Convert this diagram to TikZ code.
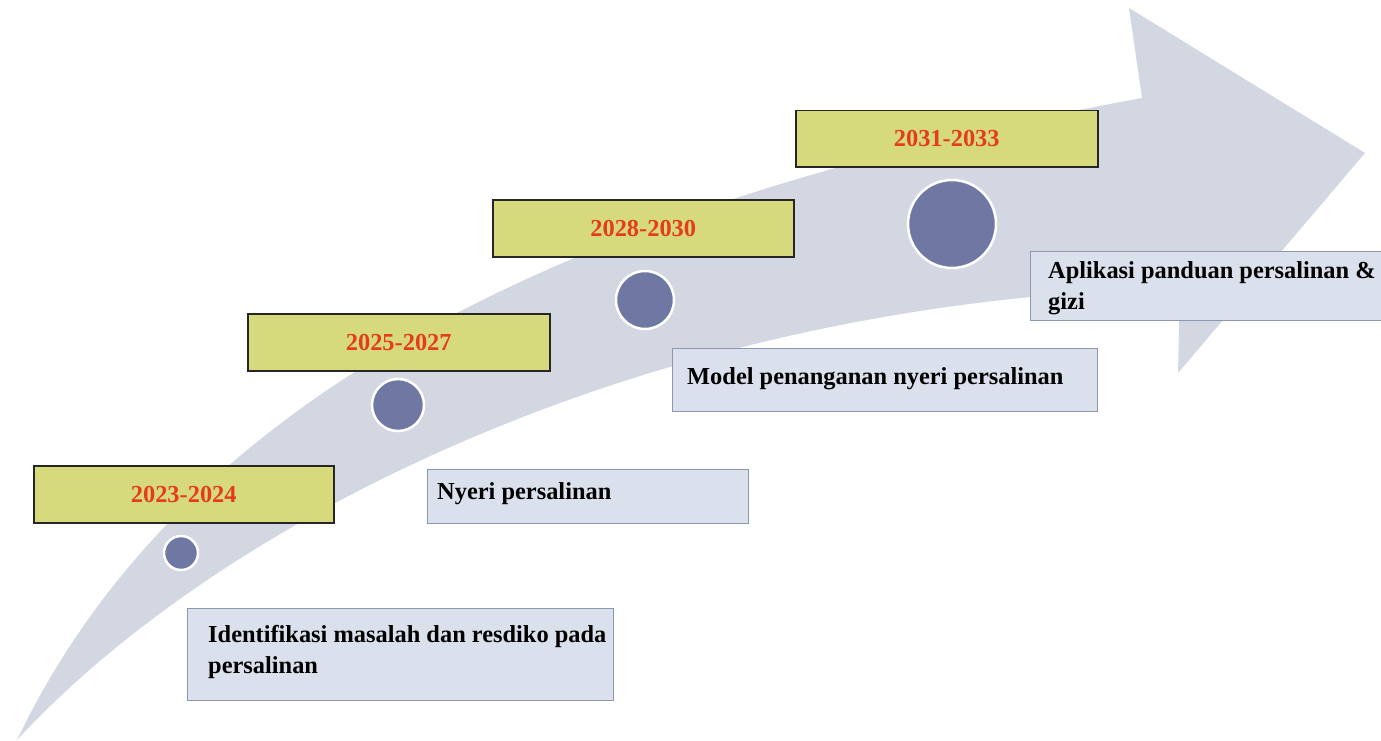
\documentclass[tikz,border=0pt]{standalone}
\usepackage{fontspec}
\setmainfont{Liberation Serif}
\definecolor{arrowgrey}{RGB}{211,215,225}
\definecolor{yearfill}{RGB}{214,218,124}
\definecolor{yeartext}{RGB}{228,60,28}
\definecolor{dotfill}{RGB}{110,120,163}
\definecolor{descfill}{RGB}{218,225,236}
\definecolor{descedge}{RGB}{140,152,176}
\tikzset{
  yearbox/.style={draw=black!85, line width=1.5pt, fill=yearfill, text=yeartext,
    font=\bfseries\fontsize{24.4}{28}\selectfont, inner sep=0pt,
    minimum width=300pt, minimum height=57pt, anchor=north west},
  dot/.style={circle, draw=white, line width=2.5pt, fill=dotfill, inner sep=0pt},
  descbox/.style={draw=descedge, line width=1pt, fill=descfill, inner sep=0pt, anchor=north west},
  desctext/.style={font=\bfseries\fontsize{24.4}{31}\selectfont, align=left, anchor=west, inner sep=0pt, text=black}
}
\begin{document}
\begin{tikzpicture}[x=1pt,y=-1pt]
\useasboundingbox (0,0) rectangle (1381,741);
\fill[white] (0,0) rectangle (1381,741);
% curved arrow
\fill[arrowgrey] (17,740) .. controls (180,400) and (560,205) .. (1142,98)
  -- (1129,8) -- (1365,153) -- (1178,373) -- (1180,288)
  .. controls (650,300) and (220,520) .. (17,740) -- cycle;
% year boxes
\node[yearbox] (y1) at (33,465) {2023-2024};
\node[yearbox, minimum width=302pt] (y2) at (247,313) {2025-2027};
\node[yearbox, minimum width=301pt] (y3) at (492,199) {2028-2030};
\node[yearbox, minimum width=302pt, minimum height=56pt] (y4) at (795,110) {2031-2033};
% milestone dots
\node[dot, minimum size=34pt] (c1) at (181,553) {};
\node[dot, minimum size=52pt] (c2) at (398,405) {};
\node[dot, minimum size=58pt] (c3) at (645,300) {};
\node[dot, minimum size=88pt] (c4) at (952,224) {};
% description boxes
\node[descbox, minimum width=426pt, minimum height=92pt] (b1) at (187,608) {};
\node[descbox, minimum width=321pt, minimum height=54pt] (b2) at (427,469) {};
\node[descbox, minimum width=425pt, minimum height=63pt] (b3) at (672,348) {};
\node[descbox, minimum width=360pt, minimum height=69pt] (b4) at (1030,251) {};
% description texts
\node[desctext] (t1) at (208,652) {Identifikasi masalah dan resdiko pada\\persalinan};
\node[desctext] (t2) at (437,494) {Nyeri persalinan};
\node[desctext] (t3) at (687,379) {Model penanganan nyeri persalinan};
\node[desctext] (t4) at (1048,288) {Aplikasi panduan persalinan \&\\gizi};
\end{tikzpicture}
\end{document}
